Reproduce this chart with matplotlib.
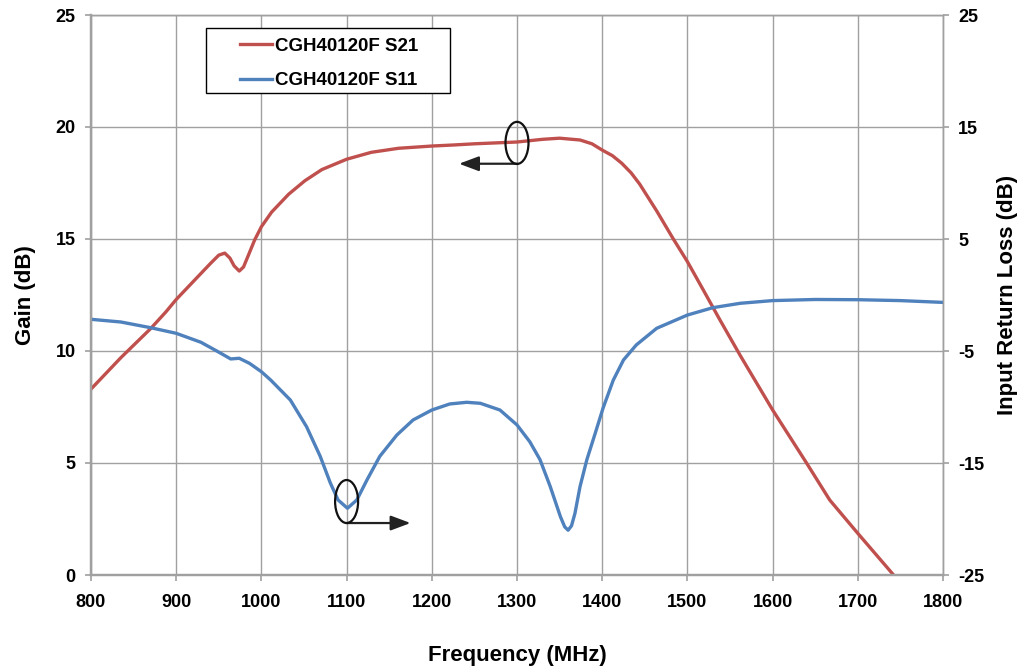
import matplotlib
matplotlib.use("Agg")
import matplotlib.pyplot as plt
from matplotlib.patches import Ellipse, Rectangle

# ---- data ----
s21_freq = [800, 810, 835, 870, 888, 900, 920, 940, 950, 957, 963, 968, 974, 979, 985, 992, 1000,
            1012, 1032, 1051, 1071, 1100, 1129, 1161, 1200, 1227, 1250, 1300, 1330, 1350, 1374,
            1388, 1400, 1412, 1423, 1434, 1444, 1464, 1483, 1500, 1519, 1538, 1562, 1600, 1640,
            1667, 1700, 1742]
s21_gain = [8.3, 8.7, 9.7, 11.0, 11.75, 12.3, 13.1, 13.9, 14.28, 14.37, 14.15, 13.8, 13.57, 13.75,
            14.3, 14.95, 15.55, 16.2, 17.0, 17.6, 18.1, 18.56, 18.87, 19.05, 19.15, 19.2, 19.25,
            19.33, 19.45, 19.5, 19.42, 19.25, 18.97, 18.72, 18.38, 17.95, 17.45, 16.25, 15.03,
            13.99, 12.7, 11.4, 9.8, 7.37, 4.99, 3.35, 1.86, 0.0]

s11_freq = [800, 835, 870, 900, 929, 949, 964, 974, 986, 1000, 1011, 1034, 1053, 1069, 1081,
            1090, 1101, 1112, 1124, 1139, 1159, 1178, 1200, 1221, 1241, 1257, 1280, 1300, 1315,
            1327, 1339, 1351, 1356, 1360, 1364, 1368, 1374, 1382, 1392, 1401, 1413, 1425, 1440,
            1464, 1500, 1530, 1562, 1600, 1650, 1700, 1750, 1800]
s11_rl = [-2.17, -2.41, -2.92, -3.42, -4.22, -5.06, -5.71, -5.65, -6.1, -6.85, -7.6, -9.38,
          -11.76, -14.4, -16.8, -18.3, -19.04, -18.3, -16.5, -14.4, -12.5, -11.16, -10.27, -9.73,
          -9.58, -9.67, -10.27, -11.6, -13.1, -14.7, -17.1, -19.8, -20.7, -21.0, -20.6, -19.5,
          -17.1, -14.7, -12.3, -10.1, -7.6, -5.8, -4.46, -2.97, -1.79, -1.13, -0.74, -0.5, -0.4,
          -0.42, -0.5, -0.66]

x_ticks = [800, 900, 1000, 1100, 1200, 1300, 1400, 1500, 1600, 1700, 1800]
left_ticks = [0, 5, 10, 15, 20, 25]
right_ticks = [-25, -15, -5, 5, 15, 25]

s21_label = "CGH40120F S21"
s11_label = "CGH40120F S11"

# ---- style ----
plt.rcParams['font.family'] = ['Liberation Sans', 'DejaVu Sans']
plt.rcParams['font.weight'] = 'bold'
plt.rcParams['axes.unicode_minus'] = False
red = '#C0504D'
blue = '#4F81BD'
grid_c = '#A0A0A0'

fig = plt.figure(figsize=(10.2, 6.69), dpi=100)
ax = fig.add_axes([91 / 1020, 1 - 575 / 669, (943 - 91) / 1020, (575 - 15) / 669])
ax2 = ax.twinx()

ax.set_xlim(800, 1800)
ax.set_ylim(0, 25)
ax2.set_ylim(-25, 25)
ax.set_xticks(x_ticks)
ax.set_yticks(left_ticks)
ax2.set_yticks(right_ticks)

ax.grid(True, color=grid_c, linewidth=1.0)
ax.set_axisbelow(True)

for a in (ax, ax2):
    for s in a.spines.values():
        s.set_color(grid_c)
        s.set_linewidth(1.0)
    a.spines['left'].set_linewidth(1.6)
    a.spines['bottom'].set_linewidth(1.6)
    a.tick_params(colors=grid_c, labelcolor='black', labelsize=13, length=4, width=1.2)

for lab in ax.get_xticklabels() + ax.get_yticklabels() + ax2.get_yticklabels():
    lab.set_fontweight('bold')
ax.tick_params(axis='x', pad=10)
ax.tick_params(axis='y', pad=7)
ax2.tick_params(axis='y', pad=7)

l1, = ax.plot(s21_freq, s21_gain, color=red, linewidth=2.4, label=s21_label,
              solid_joinstyle='round')
l2, = ax2.plot(s11_freq, s11_rl, color=blue, linewidth=2.4, label=s11_label,
               solid_joinstyle='round')

ax.set_xlabel("Frequency (MHz)", fontsize=16, fontweight='bold', labelpad=24)
ax.set_ylabel("Gain (dB)", fontsize=16, fontweight='bold', labelpad=14)
ax2.set_ylabel("Input Return Loss (dB)", fontsize=16, fontweight='bold', labelpad=9)

# annotations (drawn on return-loss axis; gain g -> rl = 2g - 25)
ax2.add_patch(Ellipse((1300, 19.29 * 2 - 25), 27, 1.88 * 2, fill=False, edgecolor='#111111',
                      linewidth=1.6, zorder=5))
ax2.add_patch(Ellipse((1100, 3.28 * 2 - 25), 27, 1.92 * 2, fill=False, edgecolor='#111111',
                      linewidth=1.6, zorder=5))
arrow_style = dict(arrowstyle='-|>,head_length=1.2,head_width=0.45', color='#222222',
                   lw=1.6, shrinkA=0, shrinkB=0)
ax2.annotate("", xy=(1232, 18.36 * 2 - 25), xytext=(1300, 18.36 * 2 - 25), arrowprops=arrow_style)
ax2.annotate("", xy=(1175, 2.32 * 2 - 25), xytext=(1100, 2.32 * 2 - 25), arrowprops=arrow_style)

# legend with a hand-placed frame
frame = Rectangle((206 / 1020, 1 - 93 / 669), 244 / 1020, 65 / 669, transform=fig.transFigure,
                  facecolor='white', edgecolor='black', linewidth=1.0, zorder=8, clip_on=False)
ax2.add_patch(frame)
leg = ax2.legend(handles=[l1, l2], loc='center left', bbox_to_anchor=(231 / 1020, 1 - 63.5 / 669),
                 bbox_transform=fig.transFigure, frameon=False, borderpad=0.0,
                 handlelength=1.7, handletextpad=0.15, labelspacing=0.92,
                 prop={'weight': 'bold', 'size': 13.5})
leg.set_zorder(10)

fig.savefig("out.png", dpi=100)
